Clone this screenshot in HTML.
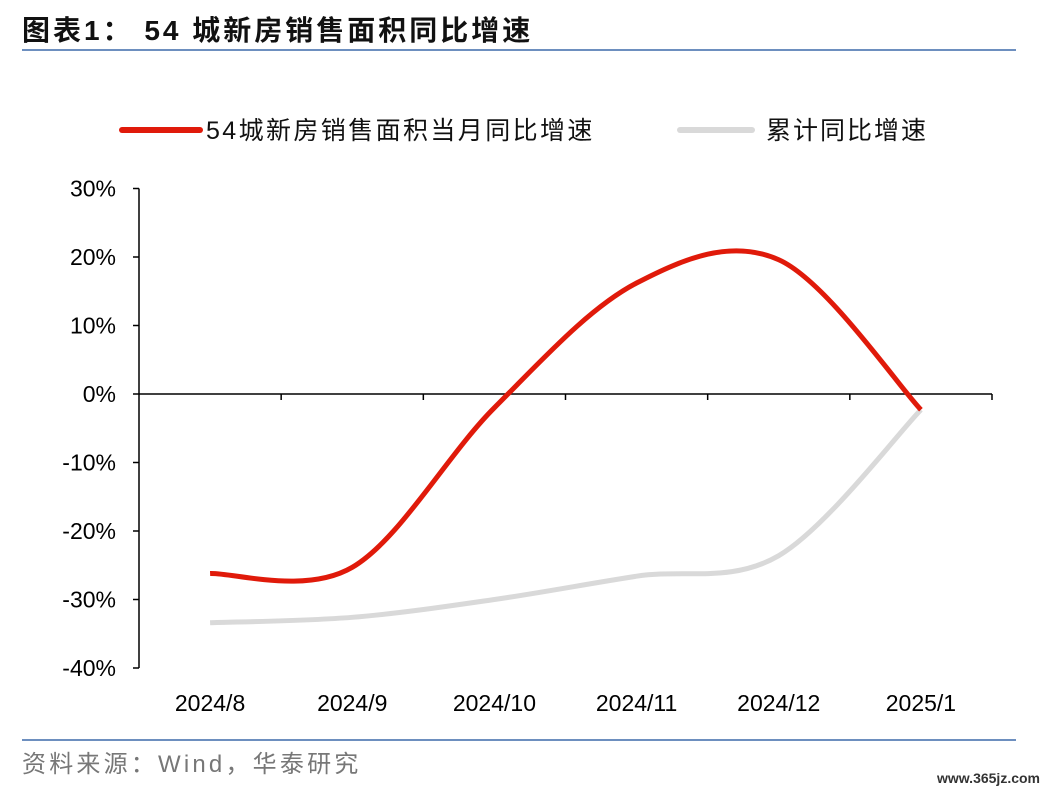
<!DOCTYPE html>
<html><head><meta charset="utf-8"><style>
body{margin:0;background:#fff;width:1048px;height:792px;overflow:hidden;font-family:"Liberation Sans","Noto Sans CJK SC",sans-serif}
svg{position:absolute;left:0;top:0}
</style></head><body>
<svg width="1048" height="792">
<text x="22" y="40" font-size="28" font-weight="bold" fill="#111" letter-spacing="3">图表1：  54 城新房销售面积同比增速</text>
<line x1="22" y1="50" x2="1016" y2="50" stroke="#6d8fbf" stroke-width="2"/>
<g>
<line x1="122" y1="130" x2="200" y2="130" stroke="#e01a0a" stroke-width="6" stroke-linecap="round"/>
<text x="206" y="139" font-size="25" fill="#111" letter-spacing="2.4">54城新房销售面积当月同比增速</text>
<line x1="680" y1="130" x2="752" y2="130" stroke="#d9d9d9" stroke-width="6" stroke-linecap="round"/>
<text x="766" y="139" font-size="25" fill="#111" letter-spacing="2">累计同比增速</text>
</g>
<g id="axes"></g>
<g id="series"></g>
<line x1="22" y1="740" x2="1016" y2="740" stroke="#6d8fbf" stroke-width="2"/>
<text x="22" y="772" font-size="24" fill="#777" letter-spacing="3.2">资料来源：Wind，华泰研究</text>
<text x="1040" y="783" font-size="14" font-weight="bold" fill="#333" text-anchor="end">www.365jz.com</text>
</svg>
<script>
const categories=["2024/8","2024/9","2024/10","2024/11","2024/12","2025/1"];
const monthly=[-26.2,-25.3,-2.0,16.2,19.6,-2.3];
const cumulative=[-33.4,-32.6,-30.0,-26.6,-23.6,-2.3];
const yTicks=[30,20,10,0,-10,-20,-30,-40];
const NS="http://www.w3.org/2000/svg";
const x0=139,x1=992,step=(x1-x0)/6;
const xs=i=>x0+step*(i+0.5);
const ys=v=>394-v*6.85;
const ax=document.getElementById('axes'),se=document.getElementById('series');
function mk(p,tag,a){const e=document.createElementNS(NS,tag);for(const k in a)e.setAttribute(k,a[k]);p.appendChild(e);return e;}
let l=mk(ax,'line',{x1:x0,y1:ys(30),x2:x0,y2:ys(-40),stroke:'#000','stroke-width':1.5});


yTicks.forEach(v=>{
 const t=mk(ax,'line',{x1:x0-6,y1:ys(v),x2:x0,y2:ys(v),stroke:'#000','stroke-width':1.5});
 
 
 const tx=mk(ax,'text',{x:116,y:ys(v)+8,'font-size':23,'text-anchor':'end',fill:'#000'});
 tx.textContent=v+'%';
 
 
});
l=mk(ax,'line',{x1:x0,y1:ys(0),x2:x1,y2:ys(0),stroke:'#000','stroke-width':1.5});


categories.forEach((c,i)=>{
 const t=mk(ax,'line',{x1:x0+step*(i+1),y1:ys(0),x2:x0+step*(i+1),y2:ys(0)+6,stroke:'#000','stroke-width':1.5});
 
 
 const tx=mk(ax,'text',{x:xs(i),y:711,'font-size':23,'text-anchor':'middle',fill:'#000'});
 tx.textContent=c;
 
 
});
function smooth(vals){
 const p=vals.map((v,i)=>[xs(i),ys(v)]);let d='M'+p[0][0]+','+p[0][1];
 for(let i=0;i<p.length-1;i++){
  const a=p[Math.max(i-1,0)],b=p[i],c=p[i+1],e=p[Math.min(i+2,p.length-1)],k=1/6;
  d+=` C${b[0]+(c[0]-a[0])*k},${b[1]+(c[1]-a[1])*k} ${c[0]-(e[0]-b[0])*k},${c[1]-(e[1]-b[1])*k} ${c[0]},${c[1]}`;
 }return d;}
let g=mk(se,'path',{d:smooth(cumulative),fill:'none',stroke:'#d9d9d9','stroke-width':5});


g=mk(se,'path',{d:smooth(monthly),fill:'none',stroke:'#e01a0a','stroke-width':5});


</script>
</body></html>
